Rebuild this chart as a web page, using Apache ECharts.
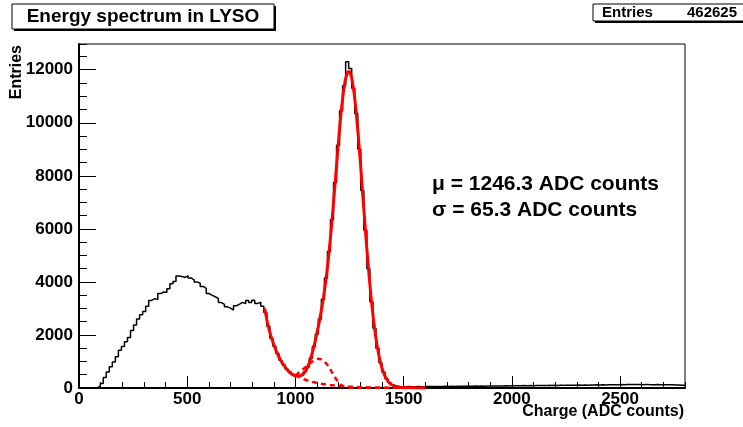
<!DOCTYPE html>
<html><head><meta charset="utf-8">
<script src="https://cdn.jsdelivr.net/npm/echarts@6/dist/echarts.min.js"></script>
<style>html,body{margin:0;padding:0;background:#fff}#c{width:743px;height:427px}</style>
</head><body><div id="c"></div><script>
// ---- data ----
const binWidth = 14; // ADC counts per bin, 0..2800
const histCounts = [
  0,0,0,0,0,0,
  60,170,400,600,800,
  980,1180,1420,1560,1740,
  1900,2170,2380,2600,2760,
  2880,3080,3300,3370,3340,
  3560,3620,3610,3740,3930,
  4020,4220,4200,4170,4230,
  4150,4080,4000,3950,3830,
  3760,3560,3490,3440,3370,
  3220,3150,3060,3010,2940,
  3100,3160,3230,3180,3300,
  3220,3310,3190,3230,3080,
  2850,2330,1880,1570,1300,
  1050,880,720,610,510,
  470,450,490,600,790,
  1120,1560,2040,2600,3350,
  4150,5150,6350,7750,9150,
  10450,11400,12300,12050,11300,
  10350,9000,7450,5950,4500,
  3250,2250,1500,950,590,
  350,200,110,70,55,
  50,48,52,50,47,53,50,49,55,
  52,58,54,60,57,62,59,64,60,66,63,68,65,70,66,72,69,74,70,76,73,78,75,80,77,82,
  79,85,81,88,84,90,86,92,88,95,90,97,93,99,95,101,97,104,99,106,102,108,104,110,106,112,108,115,110,118,
  113,120,116,124,119,127,122,130,125,133,128,136,131,130,126,133,129,127,124,130,126,122,119,124,120,115,112,108,105
];
const fitX = [858,870,880,890,900,910,920,930,940,950,960,970,980,990,1000,1010,1020,1030,1040,1050,1060,1070,1080,1090,1100,1110,1120,1130,1140,1150,1160,1170,1180,1190,1200,1210,1220,1230,1240,1250,1260,1270,1280,1290,1300,1310,1320,1330,1340,1350,1360,1370,1380,1390,1400,1410,1420,1430,1440,1450,1460,1480,1500,1550,1600];
const fitY = [3000,2476,2155,1876,1632,1421,1236,1076,936,815,709,620,545,490,460,450,460,490,560,680,862,1102,1393,1722,2092,2486,2937,3431,4027,4698,5515,6395,7400,8377,9403,10305,11055,11600,11905,11940,11700,11195,10465,9557,8523,7395,6322,5233,4268,3373,2625,1979,1471,1057,749,514,347,227,147,91,57,25,12,5,3];
const peak2X = [1000,1010,1020,1030,1040,1050,1060,1070,1080,1090,1100,1110,1120,1130,1140,1150,1160,1170,1180,1190,1200,1210,1220,1240,1260,1300,1400,1500,1600];
const peak2Y = [480,540,600,670,740,810,880,950,1010,1060,1090,1100,1080,1030,950,850,720,580,440,310,200,120,70,25,8,1,0,0,0];
const bgX = [1000,1010,1020,1030,1040,1050,1060,1080,1100,1120,1140,1160,1180,1200,1250,1300,1350,1400,1500,1600];
const bgY = [480,437,398,363,330,301,274,227,194,161,135,113,94,78,49,31,20,13,5,2];
const xMin = 0, xMax = 2800, xMajor = 500, xMinor = 100;
const yMin = 0, yMax = 12970, yMajor = 2000, yMinor = 500;
const titleText = 'Energy spectrum in LYSO';
const statsLabel = 'Entries', statsValue = '462625';
const xTitle = 'Charge (ADC counts)', yTitle = 'Entries';
const noteLines = ['\u03bc = 1246.3 ADC counts', '\u03c3 = 65.3 ADC counts'];

// ---- chart ----
const FF = '"Liberation Sans", Arial, Helvetica, sans-serif';
const histData = histCounts.map((v, i) => [i * binWidth, v]);
histData.push([histCounts.length * binWidth, histCounts[histCounts.length - 1]]);
const zip = (a, b) => a.map((x, i) => [x, b[i]]);

const chart = echarts.init(document.getElementById('c'), null, {renderer: 'canvas'});
const lbl = {fontFamily: FF, fontWeight: 'bold', fontSize: 17, color: '#000', formatter: v => String(v)};
chart.setOption({
  animation: false,
  backgroundColor: '#fff',
  grid: {left: 79, right: 58, top: 44, bottom: 39, show: true, borderColor: '#000', borderWidth: 1, backgroundColor: 'transparent'},
  xAxis: [
    {type: 'value', min: xMin, max: xMax, interval: xMajor, position: 'bottom',
     axisLine: {show: true, onZero: false, lineStyle: {color: '#000', width: 2}},
     axisTick: {show: true, inside: true, length: 12, lineStyle: {color: '#000', width: 1}},
     axisLabel: Object.assign({margin: 3, showMaxLabel: false}, lbl),
     splitLine: {show: false}},
    {type: 'value', min: xMin, max: xMax, interval: xMinor, position: 'bottom', offset: 0,
     axisLine: {show: false, onZero: false},
     axisTick: {show: true, inside: true, length: 6, lineStyle: {color: '#000', width: 1}},
     axisLabel: {show: false}, splitLine: {show: false}}
  ],
  yAxis: [
    {type: 'value', min: yMin, max: yMax, interval: yMajor, position: 'left',
     axisLine: {show: true, onZero: false, lineStyle: {color: '#000', width: 2}},
     axisTick: {show: true, inside: true, length: 17, lineStyle: {color: '#000', width: 1}},
     axisLabel: Object.assign({margin: 6, showMaxLabel: false}, lbl),
     splitLine: {show: false}},
    {type: 'value', min: yMin, max: yMax, interval: yMinor, position: 'left', offset: 0,
     axisLine: {show: false, onZero: false},
     axisTick: {show: true, inside: true, length: 8, lineStyle: {color: '#000', width: 1}},
     axisLabel: {show: false}, splitLine: {show: false}}
  ],
  series: [
    {type: 'line', name: 'hist', data: histData, step: 'end', symbol: 'none', xAxisIndex: 0, yAxisIndex: 0,
     lineStyle: {color: '#000', width: 1.5}, z: 2, silent: true},
    {type: 'line', name: 'peak2', data: zip(peak2X, peak2Y), symbol: 'none', xAxisIndex: 0, yAxisIndex: 0,
     lineStyle: {color: '#ff0000', width: 2.5, type: [5, 4]}, z: 3, silent: true},
    {type: 'line', name: 'bg', data: zip(bgX, bgY), symbol: 'none', xAxisIndex: 0, yAxisIndex: 0,
     lineStyle: {color: '#ff0000', width: 2.5, type: [5, 4]}, z: 3, silent: true},
    {type: 'line', name: 'fit', data: zip(fitX, fitY), symbol: 'none', xAxisIndex: 0, yAxisIndex: 0,
     lineStyle: {color: '#ff0000', width: 3}, z: 4, silent: true}
  ],
  graphic: [
    {type: 'rect', shape: {x: 14, y: 6, width: 262, height: 25}, style: {fill: '#000'}, z: 10},
    {type: 'rect', shape: {x: 12, y: 4, width: 262, height: 25}, style: {fill: '#fff', stroke: '#000', lineWidth: 1}, z: 11},
    {type: 'text', x: 143, y: 17, z: 12, style: {text: titleText, fontFamily: FF, fontWeight: 'bold', fontSize: 19, fill: '#000', align: 'center', verticalAlign: 'middle'}},
    {type: 'rect', shape: {x: 595, y: 6, width: 170, height: 17}, style: {fill: '#000'}, z: 10},
    {type: 'rect', shape: {x: 593, y: 4, width: 170, height: 17}, style: {fill: '#fff', stroke: '#000', lineWidth: 1}, z: 11},
    {type: 'text', x: 602, y: 13, z: 12, style: {text: statsLabel, fontFamily: FF, fontWeight: 'bold', fontSize: 15, fill: '#000', align: 'left', verticalAlign: 'middle'}},
    {type: 'text', x: 737, y: 13, z: 12, style: {text: statsValue, fontFamily: FF, fontWeight: 'bold', fontSize: 15, fill: '#000', align: 'right', verticalAlign: 'middle'}},
    {type: 'text', x: 684, y: 412, z: 12, style: {text: xTitle, fontFamily: FF, fontWeight: 'bold', fontSize: 16, fill: '#000', align: 'right', verticalAlign: 'middle'}},
    {type: 'text', x: 17, y: 45, rotation: Math.PI / 2, z: 12, style: {text: yTitle, fontFamily: FF, fontWeight: 'bold', fontSize: 16, fill: '#000', align: 'right', verticalAlign: 'middle'}},
    {type: 'text', x: 432, y: 184, z: 12, style: {text: noteLines[0], fontFamily: FF, fontWeight: 'bold', fontSize: 21, fill: '#000', align: 'left', verticalAlign: 'middle'}},
    {type: 'text', x: 432, y: 210, z: 12, style: {text: noteLines[1], fontFamily: FF, fontWeight: 'bold', fontSize: 21, fill: '#000', align: 'left', verticalAlign: 'middle'}}
  ]
});
</script></body></html>
